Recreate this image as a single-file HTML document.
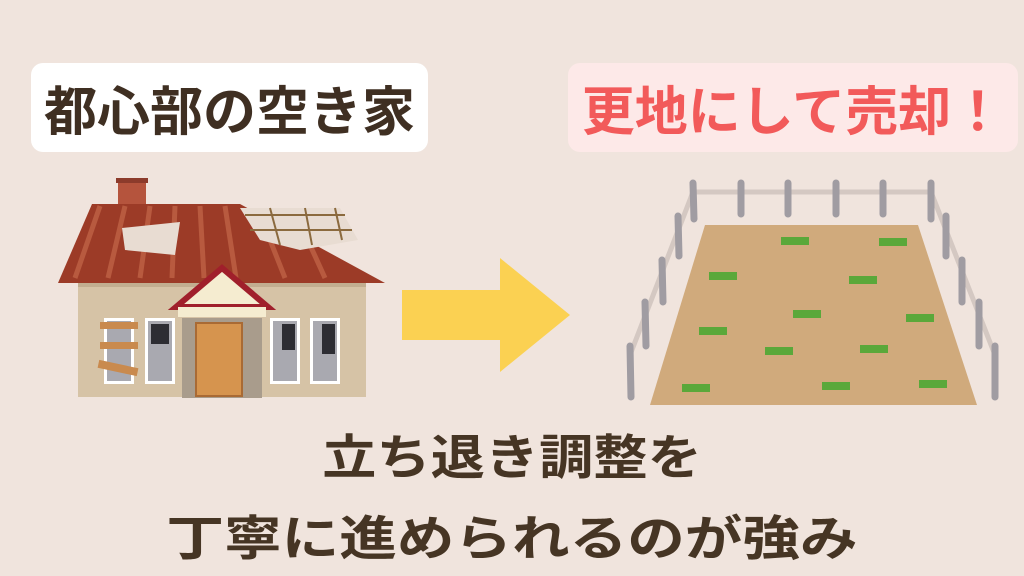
<!DOCTYPE html>
<html><head><meta charset="utf-8"><style>
html,body{margin:0;padding:0}
body{width:1024px;height:576px;background:#f0e4dd;position:relative;overflow:hidden;font-family:"Liberation Sans","Noto Sans CJK JP",sans-serif;font-weight:bold}
.box{position:absolute;top:63px;height:89px;border-radius:12px;display:flex;align-items:center;justify-content:center;font-size:53px;white-space:nowrap}
.l{left:31px;width:397px;background:#fff;color:#3f2f22}
.r{left:568px;width:450px;background:#fde9e8;color:#f25a5a}
.t{position:absolute;left:0;width:1024px;text-align:center;font-size:48px;color:#463524;white-space:nowrap}
.t span{display:inline-block}
</style></head><body>
<div class="box l">都心部の空き家</div>
<div class="box r">更地にして売却！</div>
<svg width="1024" height="576" style="position:absolute;left:0;top:0">
<rect x="118" y="180" width="28" height="26" fill="#b5543d"/>
<rect x="116" y="178" width="32" height="5" fill="#8c3b2b"/>
<polygon points="92,204 240,204 385,283 58,283" fill="#9c3b27"/>
<g stroke="#b85a3f" stroke-width="5"><line x1="100" y1="206" x2="75" y2="278"/><line x1="125" y1="206" x2="108" y2="278"/><line x1="150" y1="206" x2="140" y2="278"/><line x1="175" y1="206" x2="172" y2="278"/><line x1="200" y1="206" x2="204" y2="278"/><line x1="225" y1="206" x2="236" y2="278"/><line x1="270" y1="240" x2="285" y2="278"/><line x1="310" y1="245" x2="325" y2="278"/></g>
<polygon points="240,208 340,208 358,240 300,250 260,240" fill="#e8dcd2"/>
<polygon points="122,228 180,222 175,255 125,250" fill="#e8dcd2"/>
<g stroke="#8b6a3e" stroke-width="2"><line x1="245" y1="215" x2="345" y2="215"/><line x1="250" y1="230" x2="352" y2="230"/><line x1="270" y1="208" x2="280" y2="245"/><line x1="305" y1="208" x2="312" y2="245"/><line x1="335" y1="208" x2="342" y2="240"/></g>
<rect x="78" y="285" width="288" height="112" fill="#d6c3a6"/>
<rect x="78" y="283" width="288" height="4" fill="#c2ae90"/>
<polygon points="176,307 222,268 268,307" fill="#f5ecd0" stroke="#a01f2b" stroke-width="6"/>
<rect x="178" y="307" width="88" height="10" fill="#f5ecd0"/>
<rect x="182" y="318" width="80" height="80" fill="#a99c8c"/>
<rect x="196" y="323" width="46" height="73" fill="#d6944e" stroke="#a96a34" stroke-width="2"/>
<g fill="#fff"><rect x="104" y="318" width="30" height="66"/><rect x="145" y="318" width="30" height="66"/><rect x="270" y="318" width="30" height="66"/><rect x="310" y="318" width="30" height="66"/></g>
<g fill="#a9a9b0"><rect x="107" y="321" width="24" height="60"/><rect x="148" y="321" width="24" height="60"/><rect x="273" y="321" width="24" height="60"/><rect x="313" y="321" width="24" height="60"/></g>
<g fill="#2d2d33"><rect x="151" y="324" width="18" height="20"/><rect x="282" y="324" width="13" height="26"/><rect x="322" y="324" width="13" height="30"/></g>
<g fill="#c98a4e"><rect x="100" y="322" width="38" height="7"/><rect x="100" y="342" width="38" height="7"/><rect x="98" y="364" width="40" height="8" transform="rotate(12 118 368)"/></g>
<polygon points="402,290 500,290 500,258 570,315 500,372 500,340 402,340" fill="#fbd152"/>
<g stroke="#d4c8c2" stroke-width="5" stroke-linecap="round"><line x1="693" y1="192" x2="931" y2="192"/><line x1="693" y1="192" x2="630" y2="355"/><line x1="931" y1="192" x2="995" y2="355"/></g>
<g stroke="#a09ca2" stroke-width="7" stroke-linecap="round">
<line x1="693" y1="183" x2="694" y2="219"/><line x1="741" y1="183" x2="741" y2="214"/><line x1="788" y1="183" x2="788" y2="214"/><line x1="836" y1="183" x2="836" y2="214"/><line x1="883" y1="183" x2="883" y2="214"/><line x1="931" y1="183" x2="931" y2="219"/>
<line x1="678" y1="216" x2="679" y2="256"/><line x1="662" y1="260" x2="663" y2="302"/></g>
<polygon points="705,225 918,225 977,405 650,405" fill="#d0aa7c"/>
<g stroke="#a09ca2" stroke-width="7" stroke-linecap="round">
<line x1="645" y1="302" x2="646" y2="346"/><line x1="630" y1="346" x2="631" y2="397"/>
<line x1="946" y1="216" x2="946" y2="256"/><line x1="962" y1="260" x2="962" y2="302"/><line x1="979" y1="302" x2="979" y2="346"/><line x1="995" y1="346" x2="995" y2="397"/></g>
<g fill="#5aa83a">
<rect x="781" y="237" width="28" height="8"/><rect x="879" y="238" width="28" height="8"/><rect x="709" y="272" width="28" height="8"/><rect x="849" y="276" width="28" height="8"/><rect x="793" y="310" width="28" height="8"/><rect x="906" y="314" width="28" height="8"/><rect x="699" y="327" width="28" height="8"/><rect x="765" y="347" width="28" height="8"/><rect x="860" y="345" width="28" height="8"/><rect x="682" y="384" width="28" height="8"/><rect x="822" y="382" width="28" height="8"/><rect x="919" y="380" width="28" height="8"/></g>
</svg>
<div class="t" style="top:418px"><span style="transform:scaleX(1.13)">立ち退き調整を</span></div>
<div class="t" style="top:499px"><span style="transform:scaleX(1.2)">丁寧に進められるのが強み</span></div>
</body></html>
